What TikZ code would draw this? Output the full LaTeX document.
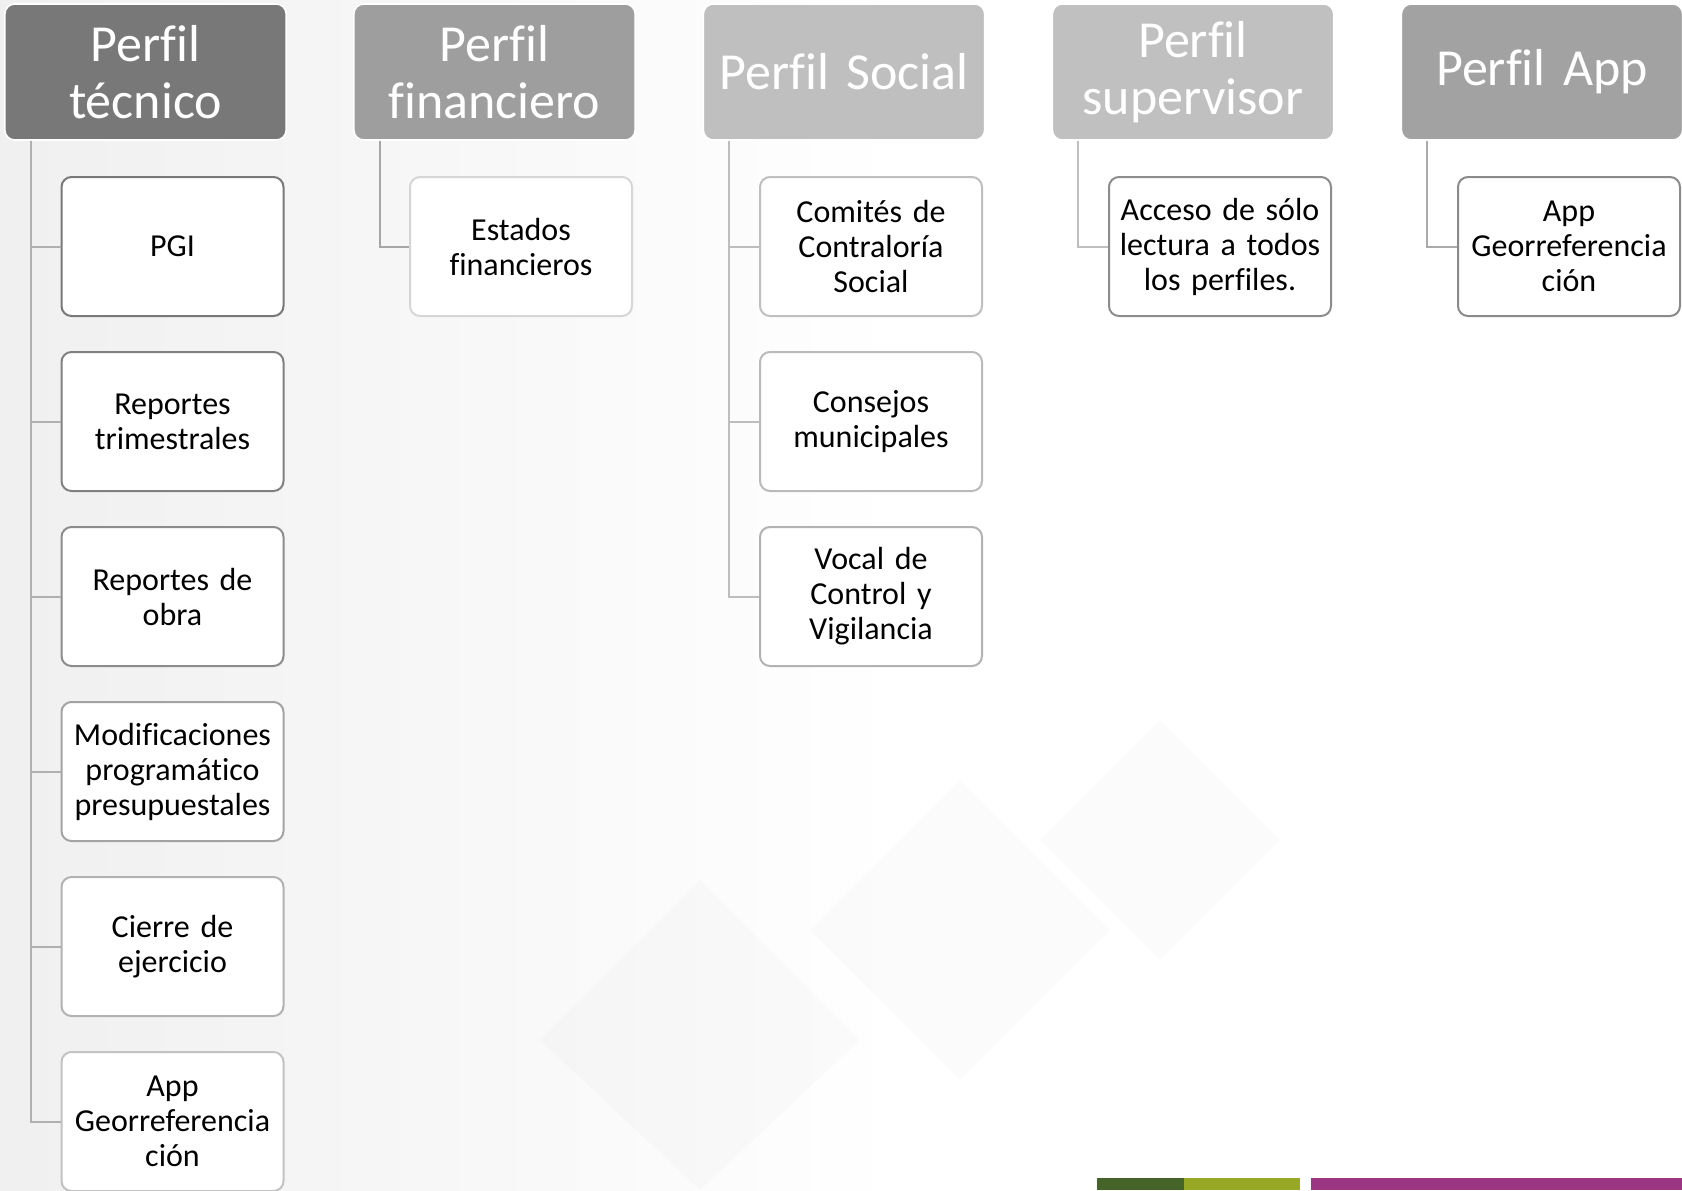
\documentclass[tikz,border=0pt]{standalone}
\usepackage{fontspec}
\setmainfont{Carlito}[Ligatures=NoCommon, WordSpace=0.8]
\usepackage{xcolor}
\usepackage{tikz}
\usetikzlibrary{calc, positioning}

\definecolor{headA}{HTML}{787878}
\definecolor{headB}{HTML}{9E9E9E}
\definecolor{headC}{HTML}{BFBFBF}
\definecolor{headD}{HTML}{C0C0C0}
\definecolor{headE}{HTML}{A2A2A2}
\definecolor{barG}{HTML}{46632A}
\definecolor{barO}{HTML}{97A825}
\definecolor{barM}{HTML}{9C3582}

\begin{document}
\begin{tikzpicture}[x=0.5pt, y=-0.5pt, font=\fontsize{16}{17.5}\selectfont]
		\tikzstyle{head} = [rectangle, rounded corners=5pt, draw=white, line width=0.8pt, minimum width=138pt, minimum height=68pt, text width=134pt, align=center, text=white, font=\fontsize{26}{28.5}\selectfont]
		\tikzstyle{item} = [rectangle, rounded corners=5pt, fill=white, line width=1pt, minimum width=111pt, minimum height=69.5pt, text width=106pt, inner sep=2pt, align=center]
		\tikzstyle{link} = [line width=1pt]
		\tikzstyle{tile} = [fill=black, fill opacity=0.015, draw=none]
		
		% background
		\useasboundingbox (0,0) rectangle (1682,1190);
		\shade[left color=black!6, right color=white] (0,0) rectangle (900,1190);
		\fill[white] (900,0) rectangle (1682,1190);
		\fill[tile] (700,880) -- (860,1040) -- (700,1190) -- (540,1040) -- cycle;
		\fill[tile] (960,780) -- (1110,930) -- (960,1080) -- (810,930) -- cycle;
		\fill[tile] (1160,720) -- (1280,840) -- (1160,960) -- (1040,840) -- cycle;
		
		\node[head, fill=headA]	at (145.5, 72)		(t0)	{Perfil\\técnico};
		\node[head, fill=headB]	at (494.5, 72)		(f0)	{Perfil\\financiero};
		\node[head, fill=headC]	at (844, 72)		(s0)	{Perfil Social};
		\node[head, fill=headD]	at (1193, 72)		(v0)	{Perfil\\supervisor};
		\node[head, fill=headE]	at (1542, 72)		(a0)	{Perfil App};
		
		\node[item, draw=black!53]	at (172.5, 246.5)	(t1)	{PGI};
		\node[item, draw=black!50]	at (172.5, 421.5)	(t2)	{Reportes\\trimestrales};
		\node[item, draw=black!45]	at (172.5, 596.5)	(t3)	{Reportes de\\obra};
		\node[item, draw=black!36]	at (172.5, 771.5)	(t4)	{Modificaciones\\programático\\presupuestales};
		\node[item, draw=black!30]	at (172.5, 946.5)	(t5)	{Cierre de\\ejercicio};
		\node[item, draw=black!24]	at (172.5, 1121.5)	(t6)	{App\\Georreferencia\\ción};
		
		\node[item, draw=black!16]	at (521, 246.5)		(f1)	{Estados\\financieros};
		
		\node[item, draw=black!25]	at (871, 246.5)		(s1)	{Comités de\\Contraloría\\Social};
		\node[item, draw=black!27]	at (871, 421.5)		(s2)	{Consejos\\municipales};
		\node[item, draw=black!30]	at (871, 596.5)		(s3)	{Vocal de\\Control y\\Vigilancia};
		
		\node[item, draw=black!45]	at (1220, 246.5)	(v1)	{Acceso de sólo\\lectura a todos\\los perfiles.};
		
		\node[item, draw=black!46]	at (1569, 246.5)	(a1)	{App\\Georreferencia\\ción};
		
		\draw [link, draw=black!31] ($(t0.south west)+(26.5,0)$) |- (t1);
		\draw [link, draw=black!31] ($(t0.south west)+(26.5,0)$) |- (t2);
		\draw [link, draw=black!31] ($(t0.south west)+(26.5,0)$) |- (t3);
		\draw [link, draw=black!31] ($(t0.south west)+(26.5,0)$) |- (t4);
		\draw [link, draw=black!31] ($(t0.south west)+(26.5,0)$) |- (t5);
		\draw [link, draw=black!31] ($(t0.south west)+(26.5,0)$) |- (t6);
		
		\draw [link, draw=black!35] ($(f0.south west)+(26.5,0)$) |- (f1);
		
		\draw [link, draw=black!26] ($(s0.south west)+(26.5,0)$) |- (s1);
		\draw [link, draw=black!26] ($(s0.south west)+(26.5,0)$) |- (s2);
		\draw [link, draw=black!26] ($(s0.south west)+(26.5,0)$) |- (s3);
		
		\draw [link, draw=black!25] ($(v0.south west)+(26.5,0)$) |- (v1);
		
		\draw [link, draw=black!33] ($(a0.south west)+(26.5,0)$) |- (a1);
		
		% bars
		\fill[barG] (1097,1178) rectangle (1184,1190);
		\fill[barO] (1184,1178) rectangle (1300,1190);
		\fill[barM] (1311,1178) rectangle (1682,1190);
		
	\end{tikzpicture}
\end{document}
